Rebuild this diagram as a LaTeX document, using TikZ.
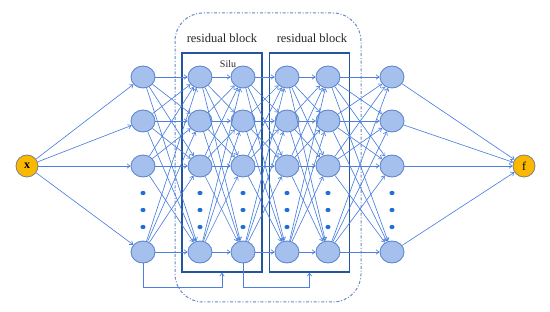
\documentclass[tikz,border=0pt]{standalone}
\usepackage{fontspec}
\setmainfont{Liberation Serif}
\usetikzlibrary{arrows.meta,positioning,shapes.geometric,calc}
\definecolor{nodefill}{RGB}{165,192,236}
\definecolor{nodeline}{RGB}{95,135,205}
\definecolor{wireblue}{RGB}{75,128,222}
\definecolor{dotblue}{RGB}{30,110,215}
\definecolor{blockline}{RGB}{35,85,160}
\definecolor{outerline}{RGB}{105,135,195}
\definecolor{ioorange}{RGB}{250,185,0}

\begin{document}
\begin{tikzpicture}[x=1pt, y=-1pt,
    neuron/.style={ellipse, fill=nodefill, draw=nodeline, line width=0.9pt, minimum width=24pt, minimum height=22pt, inner sep=0pt},
    ionode/.style={circle, fill=ioorange, draw=gray, line width=0.8pt, minimum size=22pt, inner sep=0pt, font=\bfseries\large},
    wire/.style={draw=wireblue, line width=0.65pt, -{Straight Barb[length=3pt,width=4.5pt]}},
    resblock/.style={draw=blockline, line width=1.4pt, minimum width=80pt, minimum height=219pt, inner sep=0pt},
    blocklabel/.style={font=\fontsize{12.5}{14}\selectfont, text=black!85}]
    \useasboundingbox (0,0) rectangle (550,312);

    % Outer dash-dot frame
    \draw[outerline, line width=1pt, dash pattern=on 3pt off 1.8pt on 1pt off 1.8pt, rounded corners=28pt] (175,13) rectangle (361,302);

    % Input and output
    \node[ionode] (x) at (27,166) {x};
    \node[ionode, font=\large] (f) at (524,166) {f};

    % Neuron columns
    \foreach \c/\xx in {0/143,1/200,2/243,3/287,4/328,5/392} {
        \foreach \r/\yy in {1/77,2/121,3/166,4/252}
            \node[neuron] (n\c\r) at (\xx,\yy) {};
        \foreach \yy in {193,210,227}
            \fill[dotblue] (\xx,\yy) ellipse (2.6pt and 2.1pt);
    }

    % Residual blocks
    \node[resblock] (blk1) at (222,162.5) {};
    \node[resblock] (blk2) at (309.5,162.5) {};
    \node[blocklabel] (lbl1) at (222,38) {residual block};
    \node[blocklabel] (lbl2) at (312,38) {residual block};
    \node[font=\normalsize, text=black!85] (silu) at (228,64) {Silu};

    % Fully connected layers
    \foreach \r in {1,...,4} {
        \draw[wire] (x) -- (n0\r);
        \draw[wire] (n5\r) -- (f);
    }
    \foreach \c [evaluate=\c as \d using int(\c+1)] in {0,...,4}
        \foreach \i in {1,...,4}
            \foreach \j in {1,...,4}
                \draw[wire] (n\c\i) -- (n\d\j);

    % Skip connections
    \draw[wire] (n04.south) -- ++(0,24) -| (blk1.south);
    \draw[wire] (n24.south) -- ++(0,24) -| (blk2.south);
\end{tikzpicture}
\end{document}
